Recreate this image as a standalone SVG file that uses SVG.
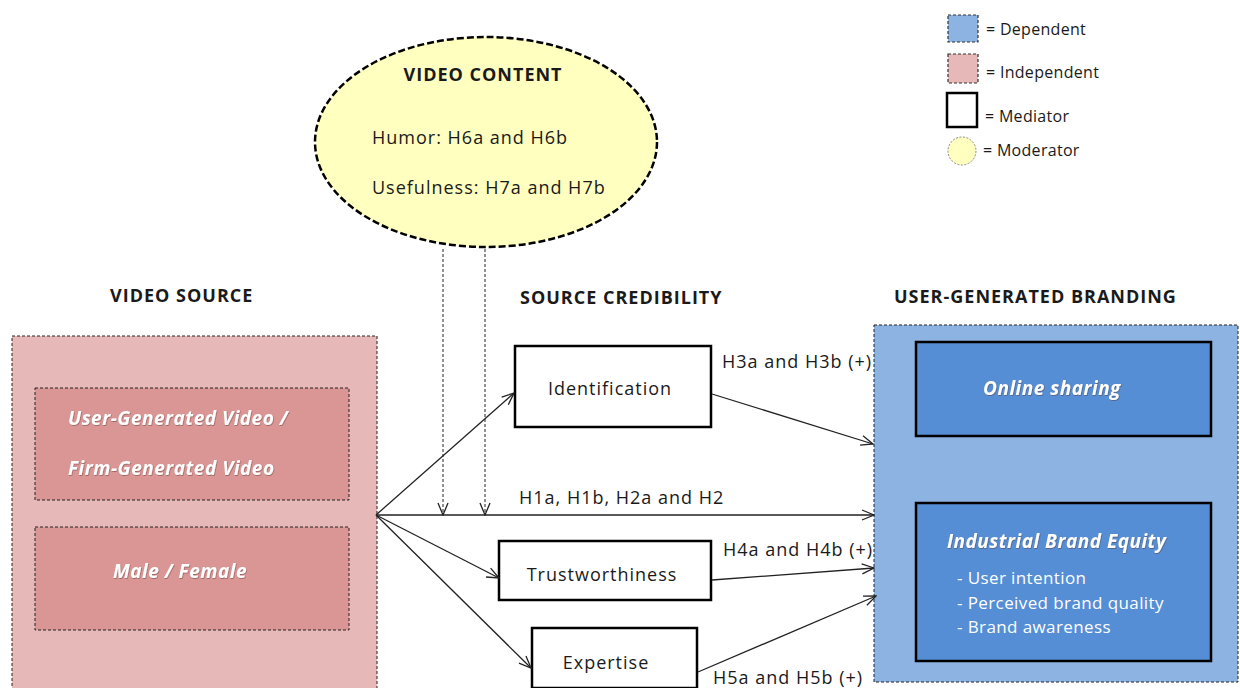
<svg xmlns="http://www.w3.org/2000/svg" width="1240" height="688" viewBox="0 0 1240 688">
  <defs>
    <marker id="arrow" viewBox="0 0 14 12" refX="13" refY="6" markerWidth="14" markerHeight="12" markerUnits="userSpaceOnUse" orient="auto">
      <path d="M1,1 L13,6 L1,11" fill="none" stroke="#222" stroke-width="1.3"/>
    </marker>
    <filter id="glow" x="-5%" y="-20%" width="110%" height="140%">
      <feDropShadow dx="0.6" dy="0.8" stdDeviation="0.6" flood-color="#5a3030" flood-opacity="0.55"/>
    </filter>
    <style>
      text { font-family: "Open Sans", "Noto Sans", "Liberation Sans", sans-serif; fill: #1a1a1a; }
      .hdr { font-size: 18px; font-weight: bold; letter-spacing: 1px; }
      .lbl { font-size: 18px; letter-spacing: 1px; }
      .leg { font-size: 16px; letter-spacing: 0.3px; }
      .wt { fill: #ffffff; font-weight: bold; font-style: italic; font-size: 19px; letter-spacing: 0.5px; filter: url(#glow); }
      .wl { fill: #ffffff; font-size: 17px; letter-spacing: 0.4px; }
      .outer { stroke: #222; stroke-width: 1; stroke-dasharray: 3 2; }
      .inner { stroke: #222; stroke-width: 1; stroke-dasharray: 3 2; }
      .med { fill: #ffffff; stroke: #000; stroke-width: 2.5; }
      .dep { fill: #558ed5; stroke: #000; stroke-width: 2.5; }
      .edge { stroke: #222; stroke-width: 1.3; fill: none; }
      .mod { stroke: #222; stroke-width: 1; fill: none; stroke-dasharray: 3 2; }
    </style>
  </defs>

  <rect width="1240" height="688" fill="#ffffff"/>

  <!-- legend -->
  <g id="legend">
    <rect x="948" y="15" width="30" height="27" fill="#8db3e2" stroke="#333" stroke-width="1.2" stroke-dasharray="3 2"/>
    <text class="leg" x="986" y="35">= Dependent</text>
    <rect x="948" y="54" width="30" height="29" fill="#e6b8b7" stroke="#333" stroke-width="1.2" stroke-dasharray="3 2"/>
    <text class="leg" x="986" y="78">= Independent</text>
    <rect x="947" y="93" width="30" height="34" fill="#ffffff" stroke="#000" stroke-width="2.5"/>
    <text class="leg" x="985" y="122">= Mediator</text>
    <circle cx="962" cy="151" r="14" fill="#ffffc0" stroke="#888" stroke-width="1" stroke-dasharray="2 1.5"/>
    <text class="leg" x="983" y="156">= Moderator</text>
  </g>

  <!-- moderator -->
  <g id="video-content">
    <ellipse cx="486" cy="142" rx="171" ry="105" fill="#ffffc0" stroke="#000" stroke-width="2.5" stroke-dasharray="7 3"/>
    <text class="hdr" x="483" y="81" text-anchor="middle">VIDEO CONTENT</text>
    <text class="lbl" x="372" y="144">Humor: H6a and H6b</text>
    <text class="lbl" x="372" y="194">Usefulness: H7a and H7b</text>
  </g>

  <!-- section headings -->
  <text class="hdr" x="110" y="302">VIDEO SOURCE</text>
  <text class="hdr" x="520" y="304">SOURCE CREDIBILITY</text>
  <text class="hdr" x="894" y="303">USER-GENERATED BRANDING</text>

  <!-- independent -->
  <g id="video-source">
    <rect class="outer" x="12" y="336" width="365" height="360" fill="#e6b8b7"/>
    <rect class="inner" x="35" y="388" width="314" height="112" fill="#da9694"/>
    <text class="wt" x="68" y="425">User-Generated Video /</text>
    <text class="wt" x="68" y="475">Firm-Generated Video</text>
    <rect class="inner" x="35" y="527" width="314" height="103" fill="#da9694"/>
    <text class="wt" x="180" y="578" text-anchor="middle">Male / Female</text>
  </g>

  <!-- dependent -->
  <g id="user-generated-branding">
    <rect class="outer" x="874" y="325" width="364" height="357" fill="#8db3e2"/>
    <rect class="dep" x="916" y="342" width="295" height="94"/>
    <text class="wt" x="1052" y="395" text-anchor="middle">Online sharing</text>
    <rect class="dep" x="916" y="503" width="295" height="158"/>
    <text class="wt" x="947" y="548">Industrial Brand Equity</text>
    <text class="wl" x="957" y="584">- User intention</text>
    <text class="wl" x="957" y="609">- Perceived brand quality</text>
    <text class="wl" x="957" y="633">- Brand awareness</text>
  </g>

  <!-- mediators -->
  <g id="identification">
    <rect class="med" x="515" y="346" width="196" height="81"/>
    <text class="lbl" x="610" y="395" text-anchor="middle">Identification</text>
  </g>
  <g id="trustworthiness">
    <rect class="med" x="499" y="541" width="212" height="59"/>
    <text class="lbl" x="602" y="581" text-anchor="middle">Trustworthiness</text>
  </g>
  <g id="expertise">
    <rect class="med" x="532" y="628" width="165" height="60"/>
    <text class="lbl" x="606" y="669" text-anchor="middle">Expertise</text>
  </g>

  <!-- connectors -->
  <g id="connectors">
    <line class="edge" x1="376" y1="515" x2="514" y2="393" marker-end="url(#arrow)"/>
    <line class="edge" x1="376" y1="515" x2="874" y2="515" marker-end="url(#arrow)"/>
    <line class="edge" x1="376" y1="515" x2="499" y2="578" marker-end="url(#arrow)"/>
    <line class="edge" x1="376" y1="515" x2="531" y2="668" marker-end="url(#arrow)"/>
    <line class="edge" x1="712" y1="394" x2="873" y2="444" marker-end="url(#arrow)"/>
    <line class="edge" x1="712" y1="580" x2="874" y2="568" marker-end="url(#arrow)"/>
    <line class="edge" x1="698" y1="672" x2="876" y2="596" marker-end="url(#arrow)"/>
    <line class="mod" x1="443" y1="249" x2="443" y2="515" marker-end="url(#arrow)"/>
    <line class="mod" x1="485" y1="249" x2="485" y2="515" marker-end="url(#arrow)"/>
    <text class="lbl" x="722" y="368">H3a and H3b (+)</text>
    <text class="lbl" x="519" y="504">H1a, H1b, H2a and H2</text>
    <text class="lbl" x="723" y="556">H4a and H4b (+)</text>
    <text class="lbl" x="713" y="684">H5a and H5b (+)</text>
  </g>
</svg>
